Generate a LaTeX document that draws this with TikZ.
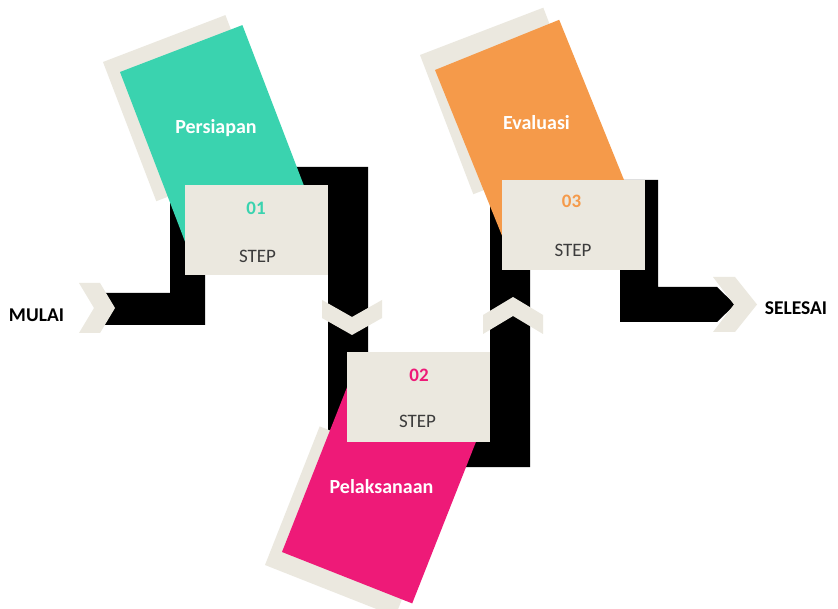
\documentclass[tikz,border=0pt]{standalone}
\usepackage{fontspec}
\setmainfont{Carlito}
\definecolor{cream}{HTML}{EBE8DF}
\definecolor{cgreen}{HTML}{3AD3AF}
\definecolor{corange}{HTML}{F59A4A}
\definecolor{cpink}{HTML}{EE1A78}
\definecolor{steptext}{HTML}{3C3C3C}
\begin{document}
\begin{tikzpicture}[x=1pt,y=-1pt,
  stepbox/.style={fill=cream, draw=none, minimum width=143pt, minimum height=90pt, inner sep=0pt},
  title/.style={font=\fontsize{20}{24}\selectfont\bfseries, text=white, anchor=base, inner sep=0pt},
  num/.style={font=\fontsize{19}{23}\selectfont\bfseries, anchor=base, inner sep=0pt},
  steplbl/.style={font=\fontsize{19}{23}\selectfont, text=steptext, anchor=base, inner sep=0pt},
  endlbl/.style={font=\fontsize{19.5}{23}\selectfont\bfseries, text=black, anchor=base, inner sep=0pt},
  chev/.style={fill=cream, draw=none}]
\clip (0,0) rectangle (838,609);
\fill[white] (0,0) rectangle (838,609);
% black paths
\fill[black] (100,293) -- (170,293) -- (170,195) -- (205,195) -- (205,325) -- (100,325) -- cycle;
\fill[black] (290,167) -- (368,167) -- (368,400) -- (490,400) -- (490,180) -- (530,180)
  -- (530,467) -- (328,467) -- (328,207) -- (290,207) -- cycle;
\fill[black] (620,180) -- (658,180) -- (658,287) -- (717,287) -- (735,304.5) -- (717,322) -- (620,322) -- cycle;
% cream shadows
\fill[cream] (103,62) -- (225.4,15.1) -- (278.7,154.3) -- (156.3,201.2) -- cycle;
\fill[cream] (420,55) -- (543.3,7.7) -- (596.6,146.9) -- (473.3,194.2) -- cycle;
\fill[cream] (265,565) -- (395.2,616.4) -- (449.9,477.8) -- (319.7,426.4) -- cycle;
% coloured cards
\fill[cgreen] (120,72) -- (242.4,25.1) -- (314.0,211.9) -- (191.6,258.8) -- cycle;
\fill[corange] (435,70) -- (559.2,19.8) -- (634.2,205.2) -- (510,255.4) -- cycle;
\fill[cpink] (282,552) -- (412.2,603.4) -- (485.6,417.4) -- (355.4,366) -- cycle;
% chevrons
\fill[chev] (79,283) -- (100,283) -- (115,308) -- (100,333) -- (79,333) -- (94,308) -- cycle;
\fill[chev] (713,277) -- (735,277) -- (757,304.5) -- (735,332) -- (713,332) -- (734,304.5) -- cycle;
\fill[chev] (322,300) -- (352,317) -- (382,300) -- (382,318) -- (352,335) -- (322,318) -- cycle;
\fill[chev] (483,315) -- (513,297) -- (543,315) -- (543,334) -- (513,316) -- (483,334) -- cycle;
% step boxes
\node[stepbox] (s1) at (256.5,230) {};
\node[stepbox] (s2) at (418.5,397) {};
\node[stepbox] (s3) at (573.5,225) {};
% texts
\node[title] (t1) at (216,134) {Persiapan};
\node[title] (t2) at (381.5,493) {Pelaksanaan};
\node[title] (t3) at (536.5,130) {Evaluasi};
\node[num, text=cgreen] (n1) at (256,215) {01};
\node[num, text=cpink] (n2) at (419,382) {02};
\node[num, text=corange] (n3) at (571.5,208) {03};
\node[steplbl] (l1) at (257.5,263) {STEP};
\node[steplbl] (l2) at (417.5,428) {STEP};
\node[steplbl] (l3) at (573,257) {STEP};
\node[endlbl] (start) at (36.5,322) {MULAI};
\node[endlbl] (finish) at (796,315) {SELESAI};
\end{tikzpicture}
\end{document}
